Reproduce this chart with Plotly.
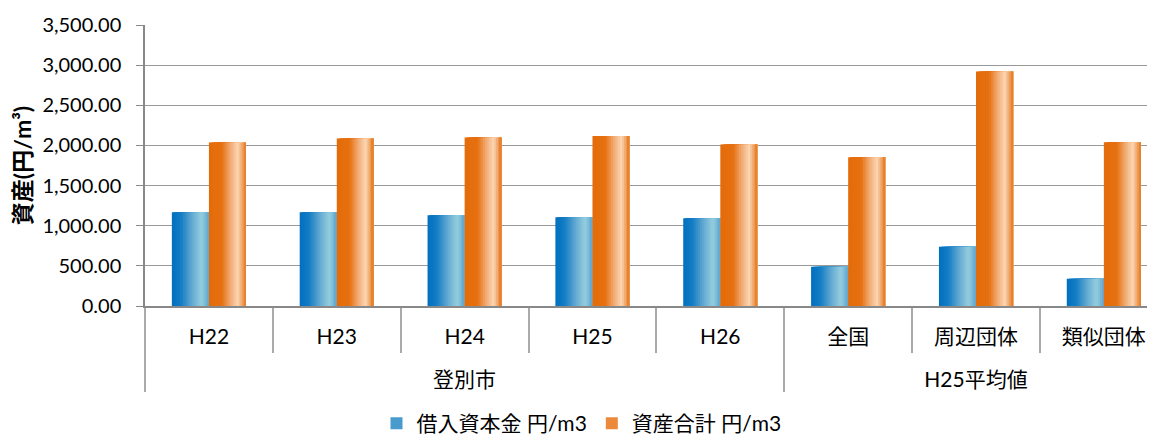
import plotly.graph_objects as go

# ---- data ----
groups = ["登別市"] * 5 + ["H25平均値"] * 3
categories = ["H22", "H23", "H24", "H25", "H26", "全国", "周辺団体", "類似団体"]
borrowed = [1168, 1168, 1130, 1106, 1093, 488, 737, 339]
assets = [2037, 2087, 2100, 2116, 2013, 1854, 2922, 2041]
series_names = ["借入資本金 円/m3", "資産合計 円/m3"]
y_ticks = [0, 500, 1000, 1500, 2000, 2500, 3000, 3500]

FONT = "Lato, 'Noto Sans CJK JP', sans-serif"

# gradient stops (position, rgb) for each series
blue_stops = [(0.0, (0, 112, 192)), (0.25, (20, 125, 196)), (0.55, (100, 170, 210)),
              (0.8, (150, 206, 222)), (1.0, (95, 165, 205))]
orange_stops = [(0.0, (228, 108, 10)), (0.35, (230, 112, 16)), (0.55, (240, 165, 105)),
                (0.78, (252, 214, 180)), (1.0, (228, 120, 30))]


def interp(stops, t):
    for i in range(len(stops) - 1):
        p0, c0 = stops[i]
        p1, c1 = stops[i + 1]
        if p0 <= t <= p1:
            f = (t - p0) / (p1 - p0) if p1 > p0 else 0
            c = [round(c0[j] + (c1[j] - c0[j]) * f) for j in range(3)]
            return "rgb(%d,%d,%d)" % tuple(c)
    return "rgb(%d,%d,%d)" % stops[-1][1]


# group labels pushed one line lower to leave room like the reference
group_display = ["&nbsp;<br>" + g for g in groups]

fig = go.Figure()
x = [group_display, categories]
W = 0.29
N = 20
for vals, stops, start in [(borrowed, blue_stops, -W), (assets, orange_stops, 0.0)]:
    for k in range(N):
        t = (k + 0.5) / N
        fig.add_trace(go.Bar(
            x=x, y=vals,
            offset=start + k * W / N,
            width=W - k * W / N,
            marker=dict(color=interp(stops, t), line=dict(width=0)),
            showlegend=False, hoverinfo="skip",
        ))

# legend entries
for name, stops in [(series_names[0], blue_stops), (series_names[1], orange_stops)]:
    fig.add_trace(go.Bar(
        x=x, y=[None] * len(categories), name=name,
        marker=dict(color=interp(stops, 0.45), line=dict(width=0)),
        showlegend=True,
    ))

# page body has an 8px margin; compensate so the plot lands where the reference has it
fig.update_layout(
    width=1147, height=436,
    margin=dict(l=137, r=0, t=17, b=138),
    barmode="overlay",
    paper_bgcolor="white", plot_bgcolor="white",
    font=dict(family=FONT, size=20, color="#000000"),
    legend=dict(orientation="h", xref="container", yref="container",
                x=0.5, xanchor="center", y=0.0, yanchor="bottom",
                font=dict(size=21), itemwidth=30, traceorder="normal"),
    showlegend=True,
)
fig.update_yaxes(
    range=[0, 3500], tickvals=y_ticks, tickformat=",.2f",
    showgrid=True, gridcolor="#999999", gridwidth=1,
    showline=True, linecolor="#888888", linewidth=1.5,
    ticks="outside", ticklen=7, tickcolor="#888888",
    tickfont=dict(size=20), ticklabelstandoff=11,
    title=dict(text="<b>資産(円/m³)</b>", font=dict(size=23), standoff=12),
    zeroline=False, automargin=False,
)
fig.update_xaxes(
    type="multicategory", range=[-0.5, 7.4],
    showline=True, linecolor="#888888", linewidth=1.5,
    showdividers=True, dividercolor="#aaaaaa", dividerwidth=1.5,
    tickfont=dict(size=21),
    ticks="outside", tickcolor="#aaaaaa", ticklen=45, tickwidth=1.5,
    ticklabelstandoff=11,
    automargin=False,
)

fig.write_html("out.html")
